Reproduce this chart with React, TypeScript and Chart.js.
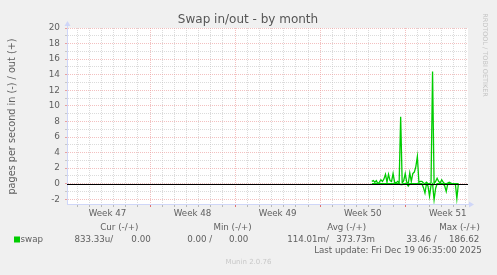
import React, { useEffect, useRef } from 'react';
import { Chart, registerables } from 'chart.js';

Chart.register(...registerables);

// ---- data ----
const chartTitle = 'Swap in/out - by month';
const yAxisLabel = 'pages per second in (-) / out (+)';
const sideLabel = 'RRDTOOL / TOBI OETIKER';
const footerLabel = 'Munin 2.0.76';
const weekLabels = ['Week 47', 'Week 48', 'Week 49', 'Week 50', 'Week 51'];
const firstWeekStartHour = -4;
const hoursPerWeek = 168;
const hoursPerDay = 24;
const rangeHours = 792;
const yMin = -2.6;
const yMax = 20;
const yTickValues = [-2, -1, 0, 1, 2, 3, 4, 5, 6, 7, 8, 9, 10, 11, 12, 13, 14, 15, 16, 17, 18, 19, 20];
const dataStartHour = 602;
const dataStepHours = 3;
const swapOut = [
  0.3, 0.4, 0.2, 0.4, 0, 0.2, 0.5, 0.3, 0.6, 1.2,
  0.2, 1.2, 0.4, 0.3, 1.3, 0.2, 0.1, 0.3, 0.1, 8.6,
  0.1, 0.4, 1.3, 0.2, 0, 1.4, 0.3, 1.3, 1.5, 2.2,
  3.5, 0.2, 0.3, 0.3, 0.1, 0, 0.2, 0, 0, 0.1,
  14.4, 0, 0.3, 0.7, 0.3, 0.1, 0.5, 0.2, 0, 0,
  0.1, 0.2, 0.1, 0, 0, 0, 0, 0,
];
const swapIn = [
  0, 0, 0, 0, 0, 0, 0, 0, 0, 0,
  0, 0, 0, 0, 0, 0, 0, 0, 0, 0.1,
  0.1, 0, 0, 0, 0.3, 0, 0, 0, 0, 0,
  0, 0, 0, 0, 0.5, 1.2, 0, 0.3, 1.6, 0.2,
  0, 2.05, 0.6, 0, 0, 0, 0, 0, 0.3, 1.0,
  0, 0, 0, 0, 0, 0, 1.9, 0,
];
const seriesName = 'swap';
const legendHeaders = ['Cur (-/+)', 'Min (-/+)', 'Avg (-/+)', 'Max (-/+)'];
const legendValues = [
  ['833.33u/', '0.00'],
  ['0.00 /', '0.00'],
  ['114.01m/', '373.73m'],
  ['33.46 /', '186.62'],
];
const lastUpdate = 'Last update: Fri Dec 19 06:35:00 2025';

// ---- styling ----
const FONT = '"DejaVu Sans", "Noto Sans", sans-serif';
const TEXT = '#606060';
const GREEN = '#00cc00';
const AXIS = '#CFD6F8';
const MGRID = 'rgba(235,150,150,0.6)';
const GRID = 'rgba(190,190,190,0.55)';
const W = 497;
const H = 275;

const mod = (a: number, b: number) => ((a % b) + b) % b;

const muninPlugin = {
  id: 'munin',
  beforeDraw(chart: any) {
    const { ctx, chartArea: a } = chart;
    ctx.save();
    ctx.fillStyle = '#f0f0f0';
    ctx.fillRect(0, 0, W, H);
    ctx.fillStyle = '#ffffff';
    ctx.fillRect(a.left, a.top, a.right - a.left, a.bottom - a.top);
    ctx.restore();
  },
  afterDatasetsDraw(chart: any) {
    const { ctx, chartArea: a, scales } = chart;
    const y0 = Math.round(scales.y.getPixelForValue(0)) + 0.5;
    ctx.save();
    ctx.strokeStyle = '#000000';
    ctx.lineWidth = 1;
    ctx.beginPath();
    ctx.moveTo(a.left, y0);
    ctx.lineTo(a.right, y0);
    ctx.stroke();
    ctx.restore();
  },
  afterDraw(chart: any) {
    const { ctx, chartArea: a } = chart;
    ctx.save();
    // axis arrows
    ctx.fillStyle = AXIS;
    ctx.strokeStyle = AXIS;
    ctx.lineWidth = 1;
    ctx.beginPath();
    ctx.moveTo(a.left + 0.5, a.top);
    ctx.lineTo(a.left + 0.5, a.top - 3);
    ctx.moveTo(a.right, a.bottom + 0.5);
    ctx.lineTo(a.right + 2, a.bottom + 0.5);
    ctx.stroke();
    ctx.beginPath();
    ctx.moveTo(a.left + 0.5, a.top - 7);
    ctx.lineTo(a.left - 2.5, a.top - 2);
    ctx.lineTo(a.left + 3.5, a.top - 2);
    ctx.closePath();
    ctx.fill();
    ctx.beginPath();
    ctx.moveTo(a.right + 6, a.bottom + 0.5);
    ctx.lineTo(a.right + 1, a.bottom - 2.5);
    ctx.lineTo(a.right + 1, a.bottom + 3.5);
    ctx.closePath();
    ctx.fill();

    // title
    ctx.fillStyle = '#555555';
    ctx.textBaseline = 'middle';
    ctx.textAlign = 'center';
    ctx.font = `12px ${FONT}`;
    ctx.fillText(chartTitle, 248, 20);

    // y axis label
    ctx.fillStyle = TEXT;
    ctx.save();
    ctx.translate(12.5, 116.5);
    ctx.rotate(-Math.PI / 2);
    ctx.font = `9.7px ${FONT}`;
    ctx.fillText(yAxisLabel, 0, 0);
    ctx.restore();

    // side label
    ctx.save();
    ctx.translate(485, 55);
    ctx.rotate(Math.PI / 2);
    ctx.fillStyle = '#c4c4c4';
    ctx.font = `6.5px ${FONT}`;
    ctx.fillText(sideLabel, 0, 0);
    ctx.restore();

    // legend
    ctx.font = `8.7px ${FONT}`;
    ctx.textAlign = 'right';
    const headerRight = [138.3, 251.7, 366.2, 480];
    legendHeaders.forEach((h, i) => ctx.fillText(h, headerRight[i], 227.5));
    const valueRight = [
      [113.3, 150.7],
      [212.3, 248.4],
      [329, 375],
      [436.7, 479.3],
    ];
    legendValues.forEach((pair, i) => {
      ctx.fillText(pair[0], valueRight[i][0], 239.5);
      ctx.fillText(pair[1], valueRight[i][1], 239.5);
    });
    ctx.fillText(lastUpdate, 481.7, 251);
    ctx.textAlign = 'left';
    ctx.fillText(seriesName, 20.5, 239.5);
    ctx.fillStyle = GREEN;
    ctx.fillRect(14, 236.5, 6, 6);

    // footer
    ctx.fillStyle = '#c8c8c8';
    ctx.font = `7px ${FONT}`;
    ctx.textAlign = 'center';
    ctx.fillText(footerLabel, 248.5, 262.5);
    ctx.restore();
  },
};

function xGridColor(v: number, major: string, minor: string) {
  const d = v - firstWeekStartHour;
  if (mod(d, hoursPerDay) !== 0) return 'rgba(0,0,0,0)';
  return mod(d, hoursPerWeek) === 0 ? major : minor;
}

export default function App() {
  const ref = useRef<HTMLCanvasElement | null>(null);

  useEffect(() => {
    if (!ref.current) return;
    const outPoints = swapOut.map((v, i) => ({ x: dataStartHour + i * dataStepHours, y: v }));
    const inPoints = swapIn.map((v, i) => ({ x: dataStartHour + i * dataStepHours, y: -v }));

    const chart = new Chart(ref.current, {
      type: 'line',
      data: {
        datasets: [
          {
            label: 'swap in',
            data: inPoints,
            borderColor: GREEN,
            borderWidth: 1.3,
            pointRadius: 0,
            tension: 0,
            fill: false,
          },
          {
            label: 'swap out',
            data: outPoints,
            borderColor: GREEN,
            borderWidth: 1.3,
            pointRadius: 0,
            tension: 0,
            fill: false,
          },
        ],
      },
      options: {
        animation: false,
        responsive: false,
        devicePixelRatio: 1,
        layout: { padding: { top: 28, right: 29, left: 0, bottom: 0 } },
        plugins: {
          legend: { display: false },
          tooltip: { enabled: false },
          title: { display: false },
        },
        scales: {
          x: {
            type: 'linear',
            min: 0,
            max: rangeHours,
            afterFit: (s: any) => {
              s.height = 71;
            },
            afterBuildTicks: (s: any) => {
              const t: { value: number }[] = [];
              for (let v = firstWeekStartHour + 12; v <= rangeHours; v += 12) {
                if (v >= 0) t.push({ value: v });
              }
              s.ticks = t;
            },
            grid: {
              color: (c: any) => xGridColor(c.tick ? c.tick.value : 0, MGRID, GRID),
              tickColor: (c: any) => xGridColor(c.tick ? c.tick.value : 0, '#e07070', '#b8b8b8'),
              tickLength: 3,
              lineWidth: 1,
            },
            border: { color: AXIS, width: 1, dash: [1, 1] },
            ticks: {
              autoSkip: false,
              maxRotation: 0,
              minRotation: 0,
              padding: 1.5,
              color: TEXT,
              font: { family: FONT, size: 8.7 },
              callback: (v: any) => {
                const k = (Number(v) - firstWeekStartHour - hoursPerWeek / 2) / hoursPerWeek;
                if (Number.isInteger(k) && k >= 0 && k < weekLabels.length) return weekLabels[k];
                return '';
              },
            },
          },
          y: {
            type: 'linear',
            min: yMin,
            max: yMax,
            afterFit: (s: any) => {
              s.width = 67;
            },
            afterBuildTicks: (s: any) => {
              s.ticks = yTickValues.map((v) => ({ value: v }));
            },
            grid: {
              color: (c: any) => (c.tick && mod(c.tick.value, 2) === 0 ? MGRID : GRID),
              tickColor: (c: any) => (c.tick && mod(c.tick.value, 2) === 0 ? '#e8a0a0' : '#c8c8c8'),
              tickLength: 2,
              lineWidth: 1,
            },
            border: { color: AXIS, width: 1, dash: [1, 1] },
            ticks: {
              autoSkip: false,
              padding: 5,
              color: TEXT,
              font: { family: FONT, size: 8.9 },
              callback: (v: any) => (mod(Number(v), 2) === 0 ? String(v) : ''),
            },
          },
        },
      },
      plugins: [muninPlugin],
    } as any);

    return () => chart.destroy();
  }, []);

  return (
    <div style={{ position: 'fixed', left: 0, top: 0, width: W, height: H, background: '#f0f0f0' }}>
      <canvas ref={ref} width={W} height={H} style={{ display: 'block', width: W, height: H }} />
    </div>
  );
}
